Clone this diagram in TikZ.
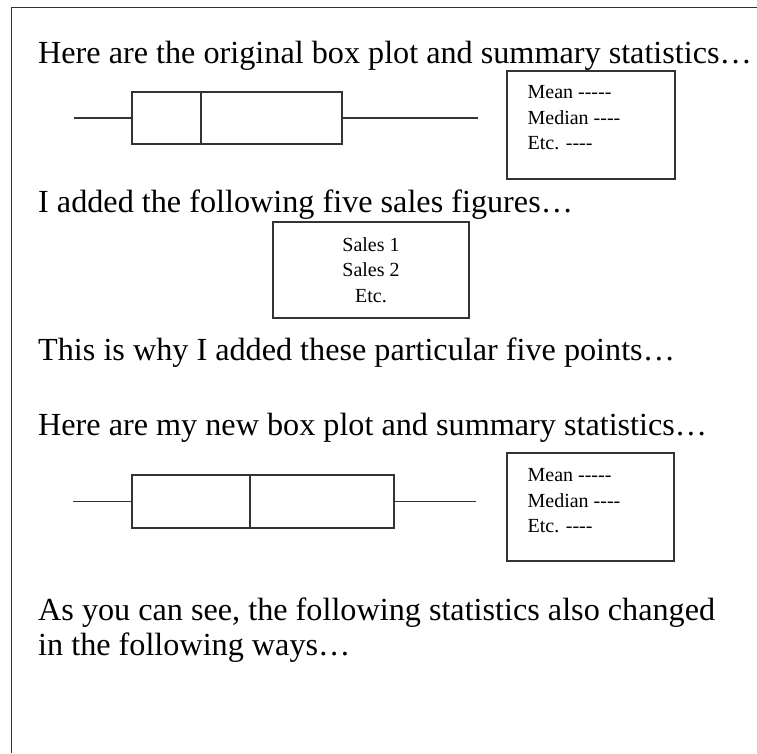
\documentclass[tikz,border=0pt]{standalone}
\usepackage{fontspec}
\setmainfont{Liberation Serif}
\newfontfamily\plainserif{Liberation Serif}
\usetikzlibrary{positioning,calc}
\tikzset{
  bigtext/.style={anchor=base west, inner sep=0pt, font=\fontsize{32.2}{36}\selectfont},
  smalltext/.style={inner sep=0pt, font=\plainserif\fontsize{20}{25.3}\selectfont},
  plotbox/.style={draw=black!80, line width=1.2pt, rectangle, inner sep=0pt},
  statbox/.style={draw=black!80, line width=1.2pt, rectangle, inner sep=0pt, minimum width=168pt, minimum height=108pt},
  salesbox/.style={smalltext, draw=black!80, line width=1.2pt, rectangle, minimum width=196pt, minimum height=96pt, align=center},
  whisker/.style={draw=black!80, line width=1.2pt}
}

\begin{document}
\begin{tikzpicture}[x=1pt,y=-1pt]
\useasboundingbox (0,0) rectangle (757,753);
% page frame
\coordinate (frameBL) at (11.5,753);
\coordinate (frameTL) at (11.5,7.5);
\coordinate (frameTR) at (757,7.5);
\draw[whisker] (frameBL) -- (frameTL) -- (frameTR);

\node[bigtext] (lineA) at (38,63) {Here are the original box plot and summary statistics…};

% original box plot
\node[plotbox, minimum width=210pt, minimum height=52pt] (boxA) at (237,118) {};
\coordinate (loA) at (74,118);
\coordinate (hiA) at (478,118);
\coordinate (medA) at (201,0);
\draw[whisker] (loA) -- (boxA.west) (boxA.east) -- (hiA);
\draw[whisker] (medA |- boxA.north) -- (medA |- boxA.south);

\node[statbox] (statsA) at (591,125) {};
\node[smalltext, align=left, below right=15pt and 21pt of statsA.north west] (statsAtext)
  {Mean -----\\Median ----\\Etc. ----};

\node[bigtext] (lineB) at (38,212) {I added the following five sales figures…};
\node[salesbox] (sales) at (371,270) {Sales 1\\Sales 2\\Etc.};

\node[bigtext] (lineC) at (38,360) {This is why I added these particular five points…};

\node[bigtext] (lineD) at (38,435) {Here are my new box plot and summary statistics…};

% new box plot
\node[plotbox, minimum width=262pt, minimum height=53pt] (boxB) at (263,501.5) {};
\coordinate (loB) at (73,501.5);
\coordinate (hiB) at (476,501.5);
\coordinate (medB) at (250,0);
\draw[whisker] (loB) -- (boxB.west) (boxB.east) -- (hiB);
\draw[whisker] (medB |- boxB.north) -- (medB |- boxB.south);

\node[statbox, minimum width=167pt] (statsB) at (590.5,507) {};
\node[smalltext, align=left, below right=16pt and 21pt of statsB.north west] (statsBtext)
  {Mean -----\\Median ----\\Etc. ----};

\node[bigtext] (lineE) at (38,620) {As you can see, the following statistics also changed};
\node[bigtext] (lineF) at (38,655) {in the following ways…};
\end{tikzpicture}
\end{document}
